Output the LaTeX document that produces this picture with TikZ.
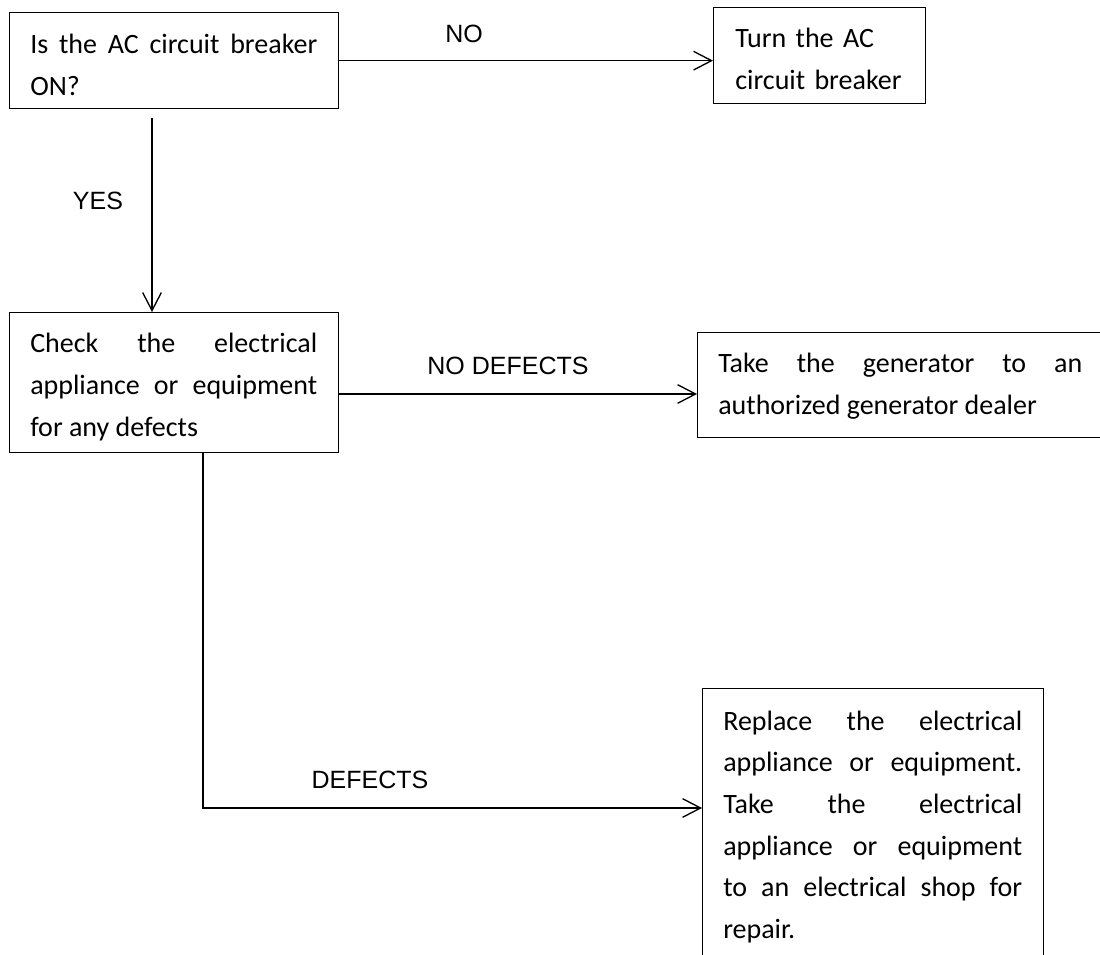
\documentclass[tikz,border=0pt]{standalone}
\usepackage{fontspec}
\setmainfont{Carlito}
\newfontfamily\labelfont{Liberation Sans}
\usetikzlibrary{arrows.meta,calc}
\tolerance=10000
\hyphenpenalty=10000
\exhyphenpenalty=10000
\begin{document}
\begin{tikzpicture}[x=0.75pt,y=-0.75pt,
  boxshape/.style={draw=black, line width=1pt, rectangle, inner sep=0pt, anchor=north west},
  boxtext/.style={anchor=base west, inner sep=0pt, align=justify,
    font=\fontsize{21pt}{31.25pt}\selectfont},
  boxtextleft/.style={boxtext, align=left},
  lbl/.style={font=\labelfont\fontsize{18.75pt}{22pt}\selectfont, inner sep=0pt},
  conn/.style={draw=black, line width=1pt},
  arr/.style={conn, -{Straight Barb[length=13.5pt, width=14pt]}}
]
\useasboundingbox (0,0) rectangle (1100,955);
\clip (0,0) rectangle (1100,955);

% boxes
\node[boxshape, minimum width=246.75pt, minimum height=72pt] (b1) at (9,12) {};
\node[boxshape, minimum width=159pt, minimum height=72pt] (b2) at (713,7) {};
\node[boxshape, minimum width=246.75pt, minimum height=105pt] (b3) at (9,312) {};
\node[boxshape, minimum width=304.5pt, minimum height=78.75pt] (b4) at (697,332) {};
\node[boxshape, minimum width=255.75pt, minimum height=225pt] (b5) at (702,688) {};

% texts
\node[boxtext, text width=215.25pt] (t1) at ($(b1.north west)+(21,42)$)
  {Is the AC circuit breaker\linebreak ON?};
\node[boxtextleft, text width=135pt] (t2) at ($(b2.north west)+(22,41)$)
  {Turn the AC\\circuit breaker};
\node[boxtext, text width=215.25pt] (t3) at ($(b3.north west)+(21,41)$)
  {Check the electrical\linebreak appliance or equipment\linebreak for any defects};
\node[boxtext, text width=273pt] (t4) at ($(b4.north west)+(21,41)$)
  {Take the generator to an\linebreak authorized generator dealer};
\node[boxtext, text width=224.25pt] (t5) at ($(b5.north west)+(21,42)$)
  {Replace the electrical\linebreak appliance or equipment.\linebreak Take the electrical\linebreak appliance or equipment\linebreak to an electrical shop for\linebreak repair.};

% connectors
\draw[arr] (b1.east) -- (b1.east -| b2.west);
\node[lbl] (lno) at (464,34) {NO};

\coordinate (yesS) at (152,118);
\draw[arr] (yesS) -- (yesS |- b3.north);
\node[lbl] (lyes) at (98,201) {YES};

\coordinate (ndS) at (338,394);
\draw[arr] (ndS) -- (ndS -| b4.west);
\node[lbl] (lnd) at (508,366) {NO DEFECTS};

\coordinate (dS) at (203,452);
\coordinate (dC) at (203,808);
\draw[arr] (dS) -- (dC) -- (dC -| b5.west);
\node[lbl] (ld) at (370,780) {DEFECTS};
\end{tikzpicture}
\end{document}
